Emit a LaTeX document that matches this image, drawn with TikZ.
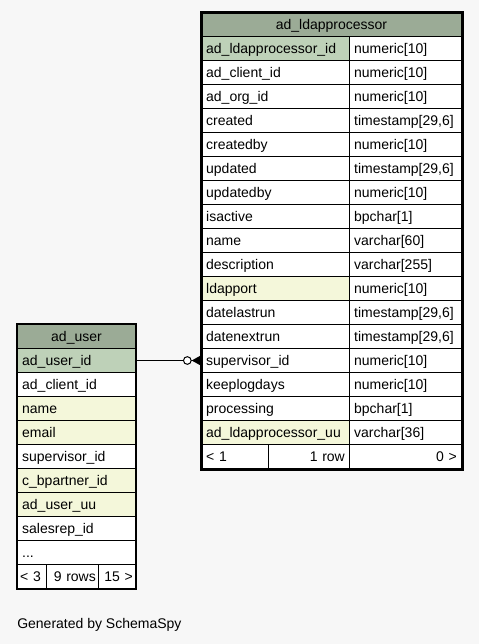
\documentclass[tikz,border=0pt]{standalone}
\usepackage{fontspec}
\setmainfont{Liberation Sans}
\usetikzlibrary{arrows.meta}
\definecolor{hdr}{HTML}{9BAB96}
\definecolor{pk}{HTML}{BED1B8}
\definecolor{idx}{HTML}{F4F7DA}
\definecolor{bg}{HTML}{F7F7F7}

\begin{document}
\begin{tikzpicture}[x=0.75pt, y=-0.75pt,
  every node/.style={font=\fontsize{10.5}{12}\selectfont, inner ysep=0pt,
                     text height=7.5pt, text depth=0pt},
  cell/.style={draw, line width=0.75pt, anchor=north west, minimum height=18pt,
               inner xsep=3.5pt, align=left},
  foot/.style={cell, fill=white, inner xsep=2pt},
  head/.style={cell, fill=hdr, align=center},
  rel/.style={line width=0.75pt,
              -{Circle[open, length=6.5pt, width=6.5pt, fill=white]Triangle[reversed, length=7pt, width=7.5pt]}}
]
\fill[bg] (0,0) rectangle (479,644);

% ad_ldapprocessor
\node[head, text width=188pt] (ldaphdr) at (201,12) {ad\_ldapprocessor};
\foreach \n/\t/\f [count=\i] in {
    ad\_ldapprocessor\_id/numeric[10]/pk,
    ad\_client\_id/numeric[10]/white,
    ad\_org\_id/numeric[10]/white,
    created/{timestamp[29,6]}/white,
    createdby/numeric[10]/white,
    updated/{timestamp[29,6]}/white,
    updatedby/numeric[10]/white,
    isactive/bpchar[1]/white,
    name/varchar[60]/white,
    description/varchar[255]/white,
    ldapport/numeric[10]/idx,
    datelastrun/{timestamp[29,6]}/white,
    datenextrun/{timestamp[29,6]}/white,
    supervisor\_id/numeric[10]/white,
    keeplogdays/numeric[10]/white,
    processing/bpchar[1]/white,
    ad\_ldapprocessor\_uu/varchar[36]/idx}
{
  \node[cell, fill=\f, text width=104pt] (a\i) at (201,{12+\i*24}) {\n};
  \node[cell, fill=white, text width=77pt] (b\i) at (349,{12+\i*24}) {\t};
}
\node[cell, fill=white, text width=43.25pt] (lf1) at (201,444) {< 1};
\node[cell, fill=white, text width=53.75pt, align=right] (lf2) at (268,444) {1 row};
\node[cell, fill=white, text width=77pt, align=right] (lf3) at (349,444) {0 >};
\draw[line width=2.25pt] (ldaphdr.north west) rectangle (lf3.south east);

% ad_user
\node[head, text width=81.5pt] (userhdr) at (17,324) {ad\_user};
\foreach \n/\f [count=\i] in {
    ad\_user\_id/pk, ad\_client\_id/white, name/idx, email/idx,
    supervisor\_id/white, c\_bpartner\_id/idx, ad\_user\_uu/idx,
    salesrep\_id/white, {.{}.{}.}/white}
{
  \node[cell, fill=\f, text width=81.5pt] (u\i) at (17,{324+\i*24}) {\n};
}
\node[foot, text width=17.75pt] (uf1) at (17,564) {\mbox{< 3}};
\node[foot, text width=35pt, align=right] (uf2) at (46,564) {\mbox{9 rows}};
\node[foot, text width=23.75pt, align=right] (uf3) at (98,564) {\mbox{15 >}};
\draw[line width=1.2pt] (userhdr.north west) rectangle (uf3.south east);

\draw[rel] (u1.east) -- (a14.west);

\node[anchor=west, inner sep=0pt] (gen) at (17,623) {Generated by SchemaSpy};
\end{tikzpicture}
\end{document}
